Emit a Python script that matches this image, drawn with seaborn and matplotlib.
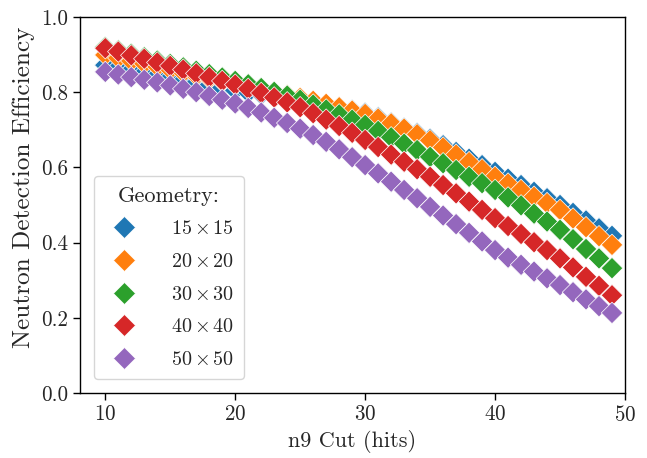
import matplotlib
matplotlib.use("Agg")
import matplotlib.pyplot as plt
import seaborn as sns
import pandas as pd

# n9 cut values (hits)
n9_cut = list(range(10, 50))

# Neutron detection efficiency per detector geometry
eff_15 = [0.872, 0.865, 0.858, 0.851, 0.845, 0.838, 0.831, 0.825, 0.818, 0.812,
          0.805, 0.799, 0.794, 0.788, 0.783, 0.777, 0.771, 0.765, 0.758, 0.752,
          0.745, 0.733, 0.719, 0.705, 0.691, 0.676, 0.659, 0.641, 0.623, 0.606,
          0.588, 0.570, 0.553, 0.535, 0.518, 0.500, 0.479, 0.459, 0.438, 0.418]
eff_20 = [0.899, 0.891, 0.883, 0.876, 0.868, 0.860, 0.852, 0.844, 0.836, 0.828,
          0.820, 0.813, 0.806, 0.799, 0.792, 0.785, 0.777, 0.769, 0.760, 0.751,
          0.742, 0.730, 0.717, 0.703, 0.688, 0.672, 0.653, 0.634, 0.614, 0.595,
          0.575, 0.557, 0.540, 0.522, 0.505, 0.487, 0.464, 0.441, 0.417, 0.394]
eff_30 = [0.920, 0.911, 0.902, 0.893, 0.884, 0.875, 0.866, 0.857, 0.848, 0.839,
          0.830, 0.821, 0.811, 0.801, 0.791, 0.780, 0.767, 0.754, 0.741, 0.727,
          0.713, 0.697, 0.680, 0.663, 0.646, 0.628, 0.611, 0.593, 0.575, 0.558,
          0.540, 0.520, 0.499, 0.477, 0.456, 0.434, 0.409, 0.383, 0.358, 0.332]
eff_40 = [0.917, 0.908, 0.898, 0.889, 0.879, 0.870, 0.860, 0.850, 0.840, 0.830,
          0.820, 0.809, 0.798, 0.786, 0.773, 0.760, 0.744, 0.727, 0.710, 0.692,
          0.673, 0.654, 0.634, 0.615, 0.595, 0.575, 0.553, 0.531, 0.509, 0.487,
          0.465, 0.444, 0.423, 0.401, 0.380, 0.358, 0.334, 0.309, 0.285, 0.260]
eff_50 = [0.854, 0.847, 0.840, 0.833, 0.826, 0.818, 0.809, 0.800, 0.790, 0.780,
          0.770, 0.758, 0.746, 0.732, 0.718, 0.703, 0.686, 0.668, 0.648, 0.627,
          0.606, 0.584, 0.562, 0.540, 0.518, 0.495, 0.472, 0.449, 0.426, 0.403,
          0.380, 0.360, 0.341, 0.323, 0.305, 0.287, 0.268, 0.249, 0.231, 0.213]

geometries = [r"$15\,{\times}\,15$", r"$20\,{\times}\,20$", r"$30\,{\times}\,30$",
              r"$40\,{\times}\,40$", r"$50\,{\times}\,50$"]
series = [eff_15, eff_20, eff_30, eff_40, eff_50]

frames = []
for name, vals in zip(geometries, series):
    frames.append(pd.DataFrame({"cut": n9_cut, "eff": vals, "geometry": name}))
df = pd.concat(frames, ignore_index=True)

sns.set_style("ticks")
plt.rcParams["font.family"] = ["cmr10", "DejaVu Serif"]
plt.rcParams["mathtext.fontset"] = "cm"
plt.rcParams["axes.formatter.use_mathtext"] = True
plt.rcParams["axes.unicode_minus"] = False

fig = plt.figure(figsize=(6.47, 4.58), dpi=100)
ax = fig.add_axes([0.1236, 0.1419, 0.8424, 0.8210])

palette = ["#1f77b4", "#ff7f0e", "#2ca02c", "#d62728", "#9467bd"]
sns.scatterplot(data=df, x="cut", y="eff", hue="geometry", hue_order=geometries,
                palette=palette, marker="D", s=120, edgecolor="white",
                linewidth=0.5, ax=ax, zorder=3)

ax.set_xlim(right=50)
ax.set_ylim(0, 1)
ax.set_xticks([10, 20, 30, 40, 50])
ax.set_yticks([0.0, 0.2, 0.4, 0.6, 0.8, 1.0])
ax.set_yticklabels(["0.0", "0.2", "0.4", "0.6", "0.8", "1.0"])
ax.tick_params(labelsize=15.2, length=5, width=1, color="black")
for sp in ax.spines.values():
    sp.set_color("black")
    sp.set_linewidth(1)

ax.set_xlabel("n9 Cut (hits)", fontsize=16)
ax.set_ylabel("Neutron Detection Efficiency", fontsize=18.2)
ax.yaxis.label.set_y(0.548)

leg = ax.legend(title="Geometry:", loc="lower left", fontsize=14.5,
                title_fontsize=16, frameon=True, fancybox=True,
                handletextpad=1.3, labelspacing=0.72, borderpad=0.5,
                borderaxespad=0.7, markerscale=1.0)
leg.get_frame().set_edgecolor("#cccccc")

fig.savefig("out.png", dpi=100)
